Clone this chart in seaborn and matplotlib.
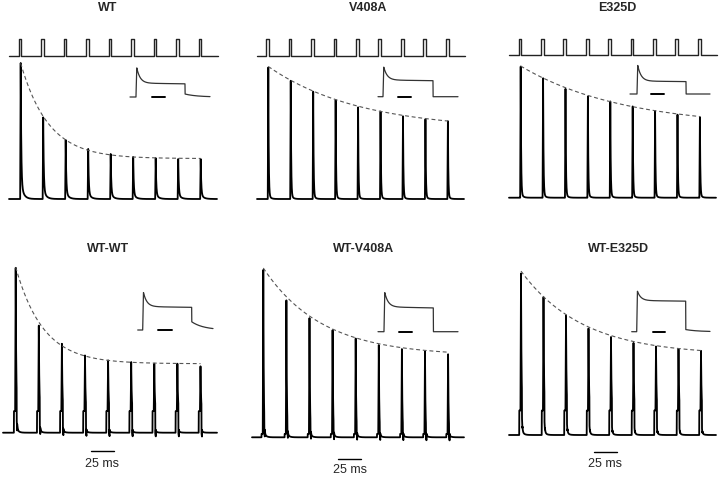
import numpy as np
import pandas as pd
import seaborn as sns
import matplotlib.pyplot as plt

# ---- values ----
titles = ["WT", "V408A", "E325D", "WT-WT", "WT-V408A", "WT-E325D"]

# peak of each of the 9 responses in a train, relative to the first one
peaks_wt = [1.00, 0.60, 0.434, 0.368, 0.331, 0.309, 0.301, 0.294, 0.294]
peaks_v408a = [1.00, 0.899, 0.816, 0.753, 0.697, 0.665, 0.629, 0.607, 0.592]
peaks_e325d = [1.00, 0.911, 0.830, 0.772, 0.734, 0.696, 0.661, 0.633, 0.615]
peaks_wtwt = [1.00, 0.649, 0.539, 0.468, 0.438, 0.428, 0.418, 0.418, 0.402]
peaks_wtv408a = [1.00, 0.818, 0.712, 0.640, 0.590, 0.551, 0.527, 0.512, 0.496]
peaks_wte325d = [1.00, 0.853, 0.739, 0.659, 0.606, 0.569, 0.547, 0.531, 0.520]
all_peaks = [peaks_wt, peaks_v408a, peaks_e325d, peaks_wtwt, peaks_wtv408a, peaks_wte325d]

pulse_interval_ms = 25
pulse_width_ms = 3
scale_bar_ms = 25
scale_label = "25 ms"

# decay of a single response (fast tau, slow fraction, slow tau), ms
decay_fast = [0.6, 0.45, 0.45, 0.5, 0.45, 0.5]
slow_frac = [0.12, 0.04, 0.04, 0.05, 0.04, 0.05]
decay_slow = [3.0, 2.0, 2.0, 2.0, 2.0, 2.0]
# stimulus artefact seen in the lower row (step height, negative dip)
artefact = [0.0, 0.0, 0.0, 0.13, 0.02, 0.15]
dip = [0.0, 0.0, 0.0, 0.04, 0.04, 0.01]

# inset step response: steady state / peak, and tail left after the step
inset_plateau = [0.42, 0.51, 0.40, 0.57, 0.58, 0.73]
inset_sag = [0.05, 0.04, 0.04, 0.03, 0.04, 0.02]
inset_tail = [0.09, 0.0, 0.0, 0.20, 0.0, 0.05]

# ---- layout, in pixels of the 720x478 picture ----
W, H = 720, 478
# first spike x, spike spacing, baseline y, first peak y, trace left, trace right
main_px = [
    (20.7, 22.5, 199.0, 63.0, 9, 217),
    (268.3, 22.45, 199.0, 66.7, 257, 464),
    (520.7, 22.4, 197.7, 66.0, 509, 716),
    (15.7, 23.1, 432.7, 266.7, 3, 217),
    (263.3, 23.1, 437.3, 267.3, 252, 464),
    (521.0, 22.5, 435.0, 271.7, 509, 716),
]
pulse_px = [(56, 39), (56, 39), (55, 39), None, None, None]
# inset: left, step on, step off, right, baseline y, peak y, bar x0, bar x1
inset_px = [
    (130, 136, 185, 210, 97, 64, 152, 165),
    (378, 383, 433, 458, 96.7, 64, 398, 411),
    (630, 637, 686, 710, 94, 61.7, 651, 664),
    (137.7, 142.7, 191.7, 213, 330, 289, 158, 172),
    (378, 384, 433.3, 458, 331.7, 289, 399, 412),
    (631.7, 636.7, 685.7, 710, 331.7, 289, 652.7, 665),
]
title_px = [(108, 8), (368, 8), (617, 8), (108, 249), (364, 249), (619, 249)]
scale_px = [None, None, None, (90.7, 451, 464), (338, 459, 470), (594, 451.7, 464)]

sns.set_style("white")
plt.rcParams["font.family"] = ["Liberation Sans", "DejaVu Sans"]

fig = plt.figure(figsize=(7.2, 4.78), dpi=100)


def rect(x0, y0, x1, y1):
    return [x0 / W, 1 - y1 / H, (x1 - x0) / W, (y1 - y0) / H]


def fit_envelope(t, y):
    # y = a + b*exp(-t/tau), grid over tau, least squares for a, b
    best = None
    for tau in np.linspace(5, 150, 300):
        X = np.column_stack([np.ones_like(t), np.exp(-t / tau)])
        coef, res, *_ = np.linalg.lstsq(X, y, rcond=None)
        err = np.sum((X @ coef - y) ** 2)
        if best is None or err < best[0]:
            best = (err, tau, coef)
    return best[1], best[2]


spike_delay = 2.0  # ms from pulse onset to response peak

for i in range(6):
    row, col = divmod(i, 3)
    bx0, bx1 = col * 240, (col + 1) * 240
    by0, by1 = (0, 230) if row == 0 else (230, 478)
    xpk, spacing, base, peak_y, tl, tr = main_px[i]
    ppm = spacing / pulse_interval_ms

    def t_of(px):
        return (px - xpk) / ppm + spike_delay

    def a_of(py):
        return (base - py) / (base - peak_y)

    ax = fig.add_axes(rect(bx0, by0, bx1, by1))

    # main trace; measured peaks include the artefact step under them
    amps = np.array(all_peaks[i])
    onsets = np.arange(len(amps)) * pulse_interval_ms
    t = np.arange(t_of(tl), t_of(tr), 0.02)
    v = np.zeros_like(t)
    for on, amp in zip(onsets, amps):
        sp = amp - artefact[i]
        dt = t - (on + spike_delay)
        rise = (dt > -0.6) & (dt <= 0)
        v[rise] += sp * (1 + dt[rise] / 0.6)
        fall = dt > 0
        v[fall] += sp * ((1 - slow_frac[i]) * np.exp(-dt[fall] / decay_fast[i])
                         + slow_frac[i] * np.exp(-dt[fall] / decay_slow[i]))
        if artefact[i] > 0:
            box = (t >= on) & (t < on + pulse_width_ms)
            v[box] += artefact[i]
        if dip[i] > 0:
            d = (t >= on + pulse_width_ms) & (t < on + pulse_width_ms + 0.6)
            v[d] -= dip[i]
    trace = pd.DataFrame({"t": t, "v": v})
    sns.lineplot(data=trace, x="t", y="v", ax=ax, color="black", lw=1.3,
                 estimator=None, sort=False)

    # dashed exponential through the peaks
    tpk = onsets + spike_delay
    tau, (ea, eb) = fit_envelope(tpk, amps)
    tt = np.linspace(tpk[0], tpk[-1], 200)
    ax.plot(tt, ea + eb * np.exp(-tt / tau), color="#555555", lw=0.8,
            dashes=(3.5, 2.5))

    # stimulus pulse train (upper row)
    if pulse_px[i] is not None:
        low, high = a_of(pulse_px[i][0]), a_of(pulse_px[i][1])
        px_t = [t_of(tl)]
        px_v = [low]
        for on in onsets:
            s = on + spike_delay - 2.3
            px_t += [s, s, s + pulse_width_ms, s + pulse_width_ms]
            px_v += [low, high, high, low]
        px_t.append(t_of(tr + 1))
        px_v.append(low)
        ax.plot(px_t, px_v, color="#222222", lw=1.0)

    # time scale bar (lower row)
    if scale_px[i] is not None:
        sx0, sy, ty = scale_px[i]
        ax.plot([t_of(sx0), t_of(sx0) + scale_bar_ms], [a_of(sy), a_of(sy)],
                color="black", lw=1.0)
        ax.text(t_of(sx0) + scale_bar_ms / 2, a_of(ty), scale_label,
                ha="center", va="center", fontsize=9)

    ax.set_xlim(t_of(bx0), t_of(bx1))
    ax.set_ylim(a_of(by1), a_of(by0))
    ax.axis("off")

    # title
    tx, ty = title_px[i]
    fig.text(tx / W, 1 - ty / H, titles[i], ha="center", va="center",
             fontsize=9, fontweight="bold")

    # inset: response to a long step
    il, ion, ioff, ir, ibase, ipeak, bar0, bar1 = inset_px[i]
    iax = fig.add_axes(rect(il - 3, ipeak - 4, ir + 3, ibase + 4))
    span = ioff - ion

    def u_of(px):
        return (px - ion) / span

    u = np.linspace(u_of(il), u_of(ir), 1500)
    w = np.zeros_like(u)
    on_m = (u >= 0) & (u < 1)
    uu = u[on_m]
    p = inset_plateau[i]
    w[on_m] = p * (1 - inset_sag[i] * uu) + (1 - p) * np.exp(-uu / 0.07)
    w[on_m] *= np.clip(uu / 0.015, 0, 1)
    off_m = u >= 1
    w[off_m] = inset_tail[i] * np.exp(-(u[off_m] - 1) / 0.25)
    step = pd.DataFrame({"u": u, "w": w})
    sns.lineplot(data=step, x="u", y="w", ax=iax, color="#333333", lw=0.9,
                 estimator=None, sort=False)
    iax.plot([u_of(bar0), u_of(bar1)], [0, 0], color="black", lw=1.4)
    iax.set_xlim(u_of(il - 3), u_of(ir + 3))
    iax.set_ylim(-(4 / (ibase - ipeak)), 1 + 4 / (ibase - ipeak))
    iax.axis("off")

fig.savefig("out.png", dpi=100)
